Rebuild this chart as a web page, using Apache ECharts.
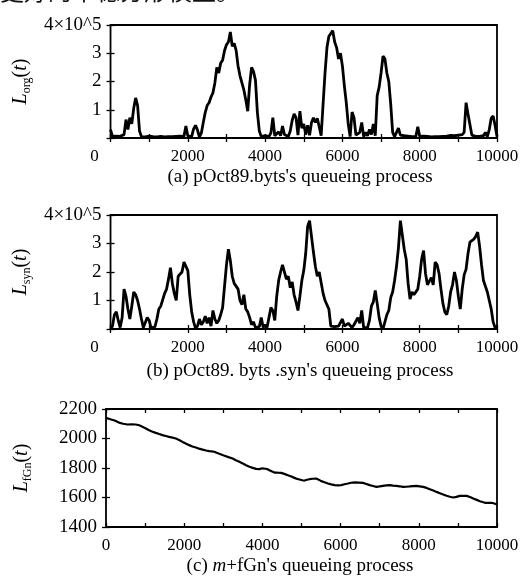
<!DOCTYPE html>
<html>
<head>
<meta charset="utf-8">
<script src="https://cdn.jsdelivr.net/npm/echarts@6/dist/echarts.min.js"></script>
<style>html,body{margin:0;padding:0;background:#fff;}#c{width:523px;height:581px;}</style>
</head>
<body>
<div id="c"></div>
<script>
// time samples shared by panels (a) and (b)
const tAB = [0,50,100,150,200,250,300,350,400,450,500,550,600,650,700,750,800,850,900,950,
1000,1050,1100,1150,1200,1250,1300,1350,1400,1450,1500,1550,1600,1650,1700,1750,1800,1850,1900,1950,
2000,2050,2100,2150,2200,2250,2300,2350,2400,2450,2500,2550,2600,2650,2700,2750,2800,2850,2900,2950,
3000,3050,3100,3150,3200,3250,3300,3350,3400,3450,3500,3550,3600,3650,3700,3750,3800,3850,3900,3950,
4000,4050,4100,4150,4200,4250,4300,4350,4400,4450,4500,4550,4600,4650,4700,4750,4800,4850,4900,4950,
5000,5050,5100,5150,5200,5250,5300,5350,5400,5450,5500,5550,5600,5650,5700,5750,5800,5850,5900,5950,
6000,6050,6100,6150,6200,6250,6300,6350,6400,6450,6500,6550,6600,6650,6700,6750,6800,6850,6900,6950,
7000,7050,7100,7150,7200,7250,7300,7350,7400,7450,7500,7550,7600,7650,7700,7750,7800,7850,7900,7950,
8000,8050,8100,8150,8200,8250,8300,8350,8400,8450,8500,8550,8600,8650,8700,8750,8800,8850,8900,8950,
9000,9050,9100,9150,9200,9250,9300,9350,9400,9450,9500,9550,9600,9650,9700,9750,9800,9850,9900,9950,
10000];

// (a) L_org(t), units of 10^5
const lOrg = [0.30,0.06,0.04,0.07,0.05,0.06,0.04,0.12,0.65,0.30,0.72,0.50,1.05,1.42,1.15,0.25,0.05,0.06,0.04,0.05,
0.07,0.04,0.05,0.06,0.04,0.05,0.06,0.05,0.04,0.06,0.05,0.07,0.05,0.04,0.06,0.05,0.07,0.05,0.06,0.42,
0.07,0.05,0.06,0.32,0.45,0.28,0.04,0.18,0.55,0.90,1.15,1.25,1.45,1.60,1.95,2.50,2.30,2.65,2.75,3.10,
3.30,3.40,3.75,3.25,3.35,3.10,2.55,2.20,1.95,1.70,1.35,0.95,1.90,2.50,2.35,2.05,0.90,0.25,0.05,0.10,
0.08,0.12,0.05,0.18,0.72,0.08,0.10,0.22,0.08,0.42,0.12,0.08,0.05,0.25,0.62,0.85,0.72,0.10,0.95,0.35,
0.50,0.12,0.45,0.10,0.55,0.72,0.55,0.70,0.40,0.08,1.20,2.30,3.20,3.60,3.70,3.80,3.40,3.20,2.80,3.00,
2.55,1.85,1.25,0.50,0.05,0.92,0.72,0.10,0.05,0.20,0.55,0.05,0.20,0.08,0.30,0.12,0.50,0.08,1.50,1.80,
2.30,2.90,2.80,2.30,2.00,1.20,0.20,0.05,0.10,0.35,0.10,0.06,0.08,0.05,0.07,0.06,0.05,0.08,0.05,0.40,
0.06,0.05,0.07,0.04,0.06,0.05,0.04,0.06,0.05,0.07,0.05,0.04,0.06,0.05,0.07,0.05,0.09,0.06,0.08,0.05,
0.10,0.07,0.12,0.20,1.25,0.85,0.80,0.10,0.05,0.06,0.04,0.06,0.05,0.08,0.20,0.05,0.30,0.70,0.78,0.45,
0.05];

// (b) L_syn(t), units of 10^5
const lSyn = [0.00,0.10,0.50,0.60,0.30,0.05,0.40,1.40,1.15,0.70,0.35,0.80,1.30,1.20,1.00,0.70,0.35,0.05,0.02,0.40,
0.30,0.03,0.02,0.08,0.35,0.70,0.80,0.85,1.25,1.40,1.75,2.15,1.60,1.25,1.00,1.85,1.90,2.00,2.35,2.40,
2.05,1.20,0.60,0.25,0.02,0.10,0.35,0.15,0.25,0.45,0.20,0.40,0.10,0.65,0.35,0.20,0.30,0.50,0.75,1.50,
2.25,2.80,2.40,1.85,1.60,1.55,1.40,1.00,0.85,1.20,0.70,0.60,0.40,0.15,0.25,0.05,0.10,0.08,0.40,0.05,
0.15,0.05,0.10,0.75,0.65,0.30,1.15,1.70,2.00,2.25,2.20,1.75,1.85,1.45,1.65,1.20,0.95,0.65,1.15,1.70,
2.05,2.65,3.60,3.80,3.25,2.70,2.20,1.85,2.00,1.95,1.25,1.00,0.85,0.70,0.10,0.03,0.08,0.05,0.10,0.15,
0.35,0.10,0.05,0.20,0.25,0.05,0.15,0.08,0.40,0.20,0.65,0.05,0.03,0.05,0.30,0.80,0.95,1.35,0.90,0.40,
0.10,0.00,0.25,0.50,0.65,1.10,1.30,1.70,2.20,2.85,3.80,3.30,2.80,2.45,1.60,1.05,1.30,1.20,1.25,1.40,
1.85,2.45,2.75,1.95,1.55,1.50,1.80,1.55,2.35,2.25,1.95,1.40,0.90,0.60,0.50,0.80,1.30,1.55,2.00,1.70,
1.15,0.70,1.40,1.90,2.10,2.65,3.05,3.00,3.15,3.25,3.40,2.90,2.25,1.70,1.50,1.30,1.00,0.70,0.25,0.05,
0.10];

// (c) L_fGn(t)
const tFgn = [0,111,220,333,440,547,650,761,850,932,1020,1103,1190,1274,1360,1444,1530,1615,1700,1786,
1870,1957,2040,2128,2210,2299,2380,2470,2560,2641,2700,2769,2830,2897,2980,3068,3150,3239,3320,3410,
3500,3581,3670,3752,3840,3923,4000,4051,4120,4179,4250,4308,4390,4479,4560,4650,4740,4821,4890,4949,
5020,5077,5140,5205,5290,5376,5440,5504,5590,5675,5760,5846,5930,6017,6100,6188,6270,6359,6460,6573,
6660,6744,6830,6915,7000,7085,7170,7256,7340,7427,7510,7598,7680,7769,7850,7940,8020,8111,8200,8282,
8370,8453,8540,8624,8710,8795,8880,8960,9051,9140,9222,9310,9393,9480,9564,9630,9692,9780,9863,9930,
10000];
const lFgn = [2140,2131,2122,2108,2100,2095,2096,2095,2090,2079,2068,2056,2046,2038,2030,2023,2017,2011,2006,2000,
1990,1977,1966,1955,1946,1939,1931,1925,1919,1914,1913,1910,1903,1896,1888,1880,1872,1864,1853,1842,
1830,1819,1809,1801,1794,1792,1798,1801,1793,1785,1776,1769,1768,1767,1760,1751,1742,1733,1726,1722,
1717,1715,1720,1724,1727,1729,1721,1711,1703,1695,1689,1684,1682,1684,1690,1695,1700,1702,1701,1699,
1692,1684,1678,1672,1675,1679,1682,1684,1681,1679,1676,1672,1673,1675,1677,1679,1676,1672,1665,1656,
1647,1638,1629,1620,1612,1605,1600,1604,1611,1612,1611,1603,1593,1584,1575,1569,1564,1563,1564,1559,
1553];

const xTicks = [0,2000,4000,6000,8000,10000];
const yTicksAB = ['', '1', '2', '3', '4×10^5'];
const captions = ["(a) pOct89.byts's queueing process", "(b) pOct89. byts .syn's queueing process", "(c) {i|m}+fGn's queueing process"];

const FF = 'Liberation Serif';
const chart = echarts.init(document.getElementById('c'), null, {renderer: 'canvas'});

const grids = [
  {left: 106, top: 25, width: 391, height: 113},
  {left: 106, top: 215, width: 391, height: 114},
  {left: 106, top: 409, width: 391, height: 118}
];

function xAxes(gi, shiftZero) {
  return [
    {type: 'value', gridIndex: gi, min: 0, max: 10000, interval: 1000, position: 'bottom',
     axisLine: {show: false}, splitLine: {show: false},
     axisTick: {show: true, inside: true, length: 4, lineStyle: {color: '#000', width: 1.3}},
     axisLabel: {show: true, margin: 10, color: '#000', fontFamily: FF, fontSize: 17,
       showMinLabel: true, showMaxLabel: true,
       formatter: v => xTicks.indexOf(v) < 0 ? '' : (v === 0 && shiftZero ? '{z|0}' : String(v)),
       rich: {z: {fontFamily: FF, fontSize: 17, color: '#000', padding: [0, 32, 0, 0]}}}},
    {type: 'value', gridIndex: gi, min: 0, max: 10000, interval: 1000, position: 'top',
     axisLine: {show: false}, splitLine: {show: false}, axisLabel: {show: false},
     axisTick: {show: true, inside: true, length: 4, lineStyle: {color: '#000', width: 1.3}}}
  ];
}

const nameRich = {
  i: {fontFamily: FF, fontStyle: 'italic', fontSize: 20, lineHeight: 22, verticalAlign: 'top', color: '#000'},
  n: {fontFamily: FF, fontSize: 20, lineHeight: 22, verticalAlign: 'top', color: '#000'},
  s: {fontFamily: FF, fontSize: 12, lineHeight: 12, padding: [13, 0, 0, 0], verticalAlign: 'bottom', color: '#000'}
};

function yAxes(gi, min, max, interval, fmt, name) {
  return [
    {type: 'value', gridIndex: gi, min: min, max: max, interval: interval, position: 'left',
     name: name, nameLocation: 'middle', nameGap: 72, nameRotate: 90,
     nameTextStyle: {rich: nameRich},
     axisLine: {show: false}, splitLine: {show: false},
     axisTick: {show: true, inside: true, length: 4, lineStyle: {color: '#000', width: 1.3}},
     axisLabel: {show: true, margin: 9, color: '#000', fontFamily: FF, fontSize: 19,
       showMinLabel: true, showMaxLabel: true, formatter: fmt}},
    {type: 'value', gridIndex: gi, min: min, max: max, interval: interval, position: 'right',
     axisLine: {show: false}, splitLine: {show: false}, axisLabel: {show: false},
     axisTick: {show: true, inside: true, length: 4, lineStyle: {color: '#000', width: 1.3}}}
  ];
}

const fmtAB = v => yTicksAB[Math.round(v)];
const fmtC = v => String(v);

const capStyle = {fontFamily: FF, fontSize: 19, fill: '#000', align: 'center', verticalAlign: 'middle'};

const option = {
  backgroundColor: '#fff',
  animation: false,
  grid: grids.map(g => Object.assign({show: true, borderColor: '#000', borderWidth: 1.8, backgroundColor: 'transparent'}, g)),
  xAxis: [].concat(xAxes(0, true), xAxes(1, true), xAxes(2, false)),
  yAxis: [].concat(
    yAxes(0, 0, 4, 1, fmtAB, '{i|L}{s|org}{n|(}{i|t}{n|)}'),
    yAxes(1, 0, 4, 1, fmtAB, '{i|L}{s|syn}{n|(}{i|t}{n|)}'),
    yAxes(2, 1400, 2200, 200, fmtC, '{i|L}{s|fGn}{n|(}{i|t}{n|)}')
  ),
  series: [
    {type: 'line', xAxisIndex: 0, yAxisIndex: 0, showSymbol: false, symbol: 'none',
     lineStyle: {color: '#000', width: 2.8}, data: tAB.map((t, i) => [t, lOrg[i]])},
    {type: 'line', xAxisIndex: 2, yAxisIndex: 2, showSymbol: false, symbol: 'none',
     lineStyle: {color: '#000', width: 2.8}, data: tAB.map((t, i) => [t, lSyn[i]])},
    {type: 'line', xAxisIndex: 4, yAxisIndex: 4, showSymbol: false, symbol: 'none',
     lineStyle: {color: '#000', width: 2.2}, data: tFgn.map((t, i) => [t, lFgn[i]])}
  ],
  graphic: [
    {type: 'text', left: 0, top: -21, style: {text: '更好的平稳分形模型。', font: '24px "Noto Sans CJK SC"', fill: '#111'}},
    {type: 'text', x: 300, y: 177, style: Object.assign({text: captions[0]}, capStyle)},
    {type: 'text', x: 300, y: 371, style: Object.assign({text: captions[1]}, capStyle)},
    {type: 'text', x: 300, y: 566, style: Object.assign({text: captions[2],
      rich: {i: {fontFamily: FF, fontSize: 19, fontStyle: 'italic', fill: '#000'}}}, capStyle)}
  ]
};
chart.setOption(option);
</script>
</body>
</html>
